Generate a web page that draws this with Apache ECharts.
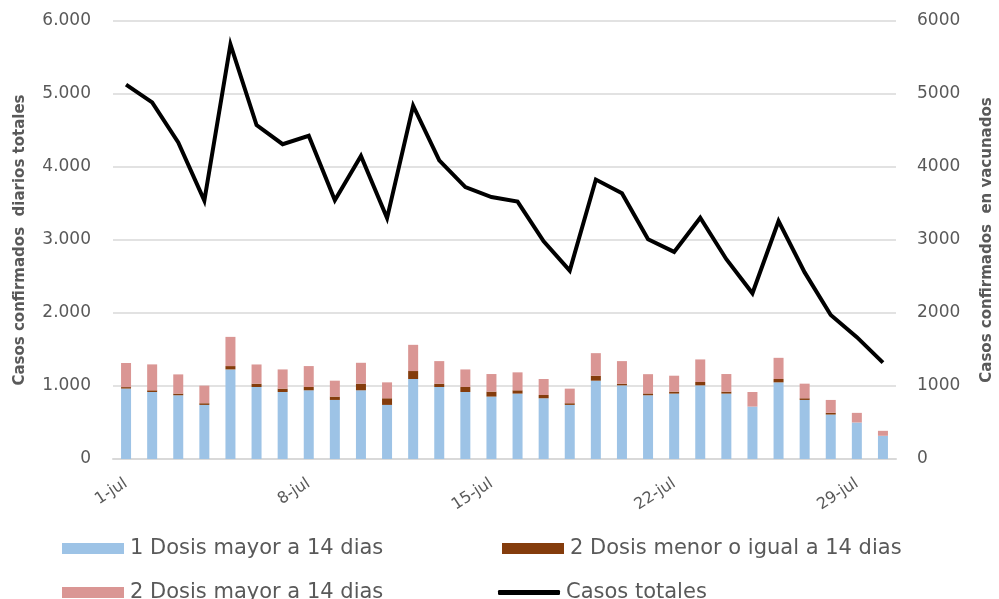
<!DOCTYPE html>
<html>
<head>
<meta charset="utf-8">
<script src="https://cdn.jsdelivr.net/npm/echarts@6/dist/echarts.min.js"></script>
<style>
html,body{margin:0;padding:0;background:#fff;}
#c{width:999px;height:599px;}
</style>
</head>
<body>
<div id="c"></div>
<script>
var dates = ['1-jul','2-jul','3-jul','4-jul','5-jul','6-jul','7-jul','8-jul','9-jul','10-jul',
  '11-jul','12-jul','13-jul','14-jul','15-jul','16-jul','17-jul','18-jul','19-jul','20-jul',
  '21-jul','22-jul','23-jul','24-jul','25-jul','26-jul','27-jul','28-jul','29-jul','30-jul'];
var dosis1Mayor14 = [965,918,873,741,1227,986,918,941,809,941,741,1096,986,918,855,896,832,741,1073,1009,873,896,1009,896,718,1050,809,609,500,318];
var dosis2Menor14 = [20,23,23,23,46,46,46,45,46,91,91,109,46,68,68,45,45,23,68,23,25,27,46,27,0,46,23,23,0,0];
var dosis2Mayor14 = [330,355,263,241,400,263,263,287,218,286,218,359,309,241,241,246,219,200,309,309,264,218,309,241,200,290,200,177,132,68];
var casosTotales = [5128,4886,4336,3540,5680,4574,4312,4427,3545,4151,3300,4840,4091,3725,3588,3526,2982,2580,3828,3641,3010,2837,3305,2737,2270,3259,2556,1973,1669,1320];
var yTicks = [0,1000,2000,3000,4000,5000,6000];

var FONT = 'DejaVu Sans';
var GREY = '#595959';
var names = ['1 Dosis mayor a 14 dias','2 Dosis menor o igual a 14 dias','2 Dosis mayor a 14 dias','Casos totales'];

var chart = echarts.init(document.getElementById('c'));
function fmtDot(v){ return String(v).replace(/\B(?=(\d{3})+(?!\d))/g,'.'); }
function fmtPlain(v){ return String(v); }
function legendAt(name, left, top, icon, h){
  return {
    data:[name], left:left, top:top, icon:icon, itemWidth:62, itemHeight:h, itemGap:0,
    textStyle:{color:GREY, fontFamily:FONT, fontSize:21, padding:[0,0,0,1]},
    selectedMode:false
  };
}
chart.setOption({
  animation:false,
  backgroundColor:'#fff',
  grid:{left:113, right:103, top:21, bottom:140, outerBoundsMode:'none', containLabel:false},
  legend:[
    legendAt(names[0], 57, 533, 'rect', 11),
    legendAt(names[1], 497, 533, 'rect', 11),
    legendAt(names[2], 57, 577, 'rect', 11),
    legendAt(names[3], 493, 577, 'roundRect', 5)
  ],
  xAxis:{
    type:'category', data:dates, boundaryGap:true,
    axisLine:{lineStyle:{color:'#d9d9d9', width:2}},
    axisTick:{show:false},
    axisLabel:{interval:6, rotate:33, color:GREY, fontFamily:FONT, fontSize:16, margin:23}
  },
  yAxis:[
    {type:'value', min:0, max:6000, interval:1000, position:'left',
     name:'Casos confirmados  diarios totales', nameLocation:'middle', nameGap:85, nameRotate:90,
     nameTextStyle:{color:GREY, fontFamily:FONT, fontSize:15, fontWeight:'bold'},
     axisLine:{show:false}, axisTick:{show:false},
     axisLabel:{color:GREY, fontFamily:FONT, fontSize:17, margin:22, formatter:fmtDot},
     splitLine:{lineStyle:{color:'#d9d9d9', width:1.5}}},
    {type:'value', min:0, max:6000, interval:1000, position:'right',
     name:'Casos confirmados  en vacunados', nameLocation:'middle', nameGap:84, nameRotate:90,
     nameTextStyle:{color:GREY, fontFamily:FONT, fontSize:15, fontWeight:'bold'},
     axisLine:{show:false}, axisTick:{show:false},
     axisLabel:{color:GREY, fontFamily:FONT, fontSize:17, margin:21, formatter:fmtPlain},
     splitLine:{show:false}}
  ],
  series:[
    {name:names[0], type:'bar', stack:'v', yAxisIndex:1, data:dosis1Mayor14, barWidth:10,
     itemStyle:{color:'#9DC3E6'}},
    {name:names[1], type:'bar', stack:'v', yAxisIndex:1, data:dosis2Menor14, barWidth:10,
     itemStyle:{color:'#843C0C'}},
    {name:names[2], type:'bar', stack:'v', yAxisIndex:1, data:dosis2Mayor14, barWidth:10,
     itemStyle:{color:'#DA9694'}},
    {name:names[3], type:'line', yAxisIndex:0, data:casosTotales, symbol:'none',
     lineStyle:{color:'#000', width:4, join:'miter'}, itemStyle:{color:'#000'}, z:5}
  ]
});
</script>
</body>
</html>
